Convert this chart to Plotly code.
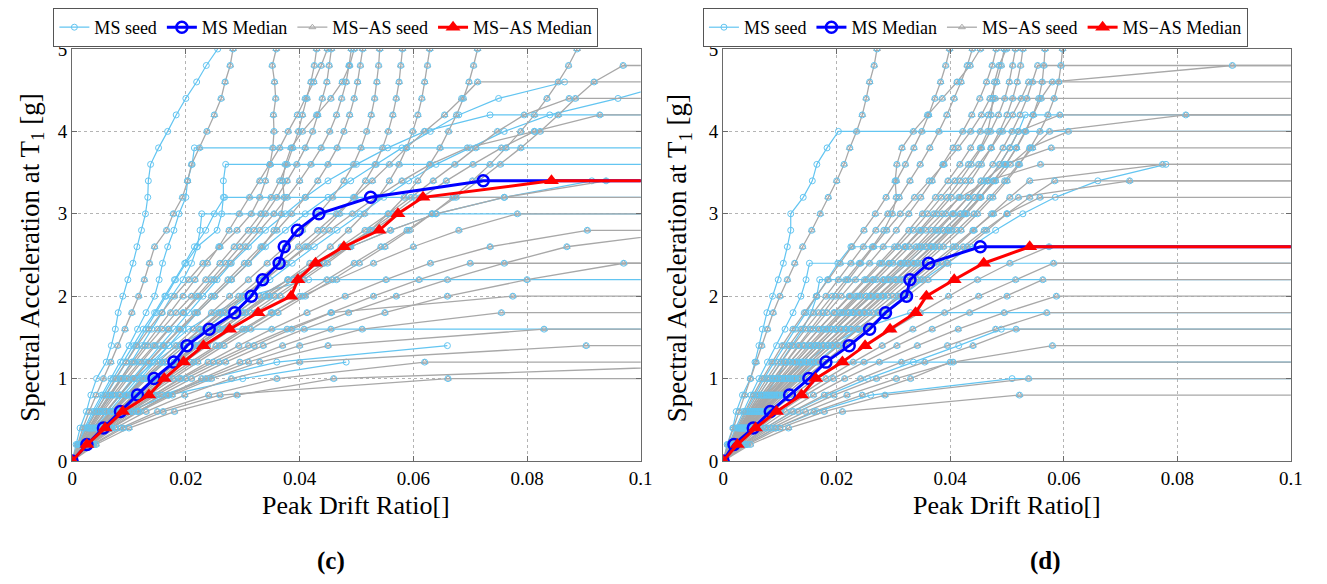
import plotly.graph_objects as go

# ---------------- data ----------------
IM_LEVELS = [0.0, 0.2, 0.4, 0.6, 0.8, 1.0, 1.2, 1.4, 1.6, 1.8, 2.0, 2.2, 2.4,
             2.6, 2.8, 3.0, 3.2, 3.4, 3.6, 3.8, 4.0, 4.2, 4.4, 4.6, 4.8, 5.0]
DRIFT_UNIT = 0.001      # drift lists below are in thousandths
X_TICKS = [0, 0.02, 0.04, 0.06, 0.08, 0.1]
X_TICK_TEXT = ["0", "0.02", "0.04", "0.06", "0.08", "0.1"]
Y_TICKS = [0, 1, 2, 3, 4, 5]
Y_TICK_TEXT = ["0", "1", "2", "3", "4", "5"]

# ---- panel (c) ----
C_MS_SEEDS = [
    [0, 0.7, 1.4, 2.5, 3.3, 4.3, 6.0, 6.9, 7.6, 8.1, 8.9, 9.8, 10.7, 11.4, 12.2, 12.9, 13.3, 13.4, 13.8, 15.2, 16.8, 18.3, 20.0, 21.9, 23.6, 25.6],
    [0, 1.0, 2.2, 3.6, 5.2, 6.8, 8.5, 10.0, 11.5, 13.0, 14.5, 15.3, 15.9, 16.8, 17.9, 18.8, 20.0, 20.3, 21.1, 21.5],
    [0, 1.2, 2.6, 4.2, 6.0, 7.8, 9.5, 11.2, 13.0, 14.8, 16.5, 18.2, 20.0, 22.0, 25.5, 26.3, 26.6, 26.6, 27.0],
    [0, 1.1, 2.4, 3.9, 5.5, 7.2, 9.0, 10.8, 12.5, 14.5, 16.3, 18.0, 19.8, 21.5, 23.5, 25.0, 26.8],
    [0, 1.3, 3.0, 4.8, 6.8, 8.6, 10.5, 12.3, 14.0, 15.8, 17.5, 19.5, 21.0, 22.0, 22.5, 22.8],
    [0, 1.8, 4.0, 6.5, 9.0, 11.5, 14.0, 17.0, 20.5, 25.0, 31.0, 41.6],
    [0, 1.6, 3.6, 6.0, 8.5, 11.0, 14.5, 18.5, 24.0],
    [0, 2.0, 4.5, 7.0, 9.5, 12.0, 14.5, 17.0, 19.5, 22.0, 25.0, 28.0, 31.0, 34.0, 37.5, 41.0, 45.0, 49.0, 53.5, 58.0, 63.0, 68.0, 75.0, 86.6],
    [0, 1.7, 3.8, 6.0, 8.3, 10.6, 13.0, 15.5, 18.0, 20.5, 23.0, 25.5, 28.0, 31.0, 34.0, 37.5, 41.0, 45.0, 50.0, 55.5, 62.0, 73.5],
    [0, 2.2, 5.0, 8.0, 11.0, 14.5, 18.0, 21.5, 25.0, 29.0, 33.0, 38.0, 43.0, 49.0, 56.0, 64.0, 76.0, 91.4],
    [0, 2.4, 5.5, 10.0, 17.0, 30.0, 48.2],
    [0, 2.6, 6.0, 10.5, 16.0, 24.0, 36.0, 66.0],
    [0, 1.9, 4.3, 7.0, 9.9, 13.0, 16.3, 19.8, 23.4, 27.1, 30.9, 34.8, 38.7, 42.6, 46.6, 50.6, 54.8, 59.2, 64.0, 70.0, 76.0, 84.0, 96.0, 106.0],
]
C_MS_COLLAPSE = [False, True, True, True, True, True, True, False, True, True, False, False, False]

C_AS_SEEDS = [
    [0, 0.9, 1.9, 3.0, 4.2, 5.5, 6.8, 8.0, 9.3, 10.5, 11.7, 12.7, 13.6, 14.5, 16.6, 17.8, 19.4, 20.3, 21.0, 22.4, 23.7, 25.0, 26.2, 26.9, 27.8, 28.3],
    [0, 1.2, 2.6, 4.2, 5.9, 7.6, 9.5, 11.4, 13.5, 15.8, 18.0, 20.5, 23.0, 26.0, 29.0, 31.5, 33.0, 34.0, 34.8, 35.3, 35.5, 35.4, 35.8, 35.6, 35.2, 35.9],
    [0, 1.4, 3.0, 4.8, 6.8, 8.8, 11.0, 13.3, 15.8, 18.3, 21.0, 23.5, 26.0, 28.5, 31.0, 33.2, 35.0, 36.5, 37.8, 38.8, 39.8, 40.5, 41.3, 42.0, 42.6, 43.0],
    [0, 1.3, 2.9, 4.6, 6.5, 8.5, 10.6, 12.8, 15.0, 17.3, 19.5, 21.6, 23.8, 25.8, 27.6, 29.4, 31.2, 33.0, 34.8, 36.5, 38.0, 39.6, 41.0, 42.5, 43.8, 44.9],
    [0, 1.6, 3.4, 5.4, 7.6, 9.8, 12.2, 14.6, 17.0, 19.5, 22.0, 24.5, 27.0, 29.5, 32.0, 34.0, 36.0, 37.8, 39.5, 41.0, 42.3, 43.2, 44.0, 44.8, 45.2, 45.6],
    [0, 1.5, 3.2, 5.1, 7.2, 9.4, 11.8, 14.3, 16.9, 19.6, 22.3, 25.0, 27.8, 30.5, 33.0, 35.5, 37.8, 40.0, 42.0, 43.8, 45.3, 46.5, 47.4, 48.2, 48.7, 49.1],
    [0, 1.8, 3.8, 6.0, 8.4, 10.9, 13.5, 16.2, 19.0, 22.0, 25.0, 28.0, 31.0, 33.5, 35.5, 36.8, 37.3, 37.0, 37.5, 38.5, 40.5, 43.0, 45.5, 47.5, 48.8, 49.6],
    [0, 1.7, 3.7, 5.9, 8.3, 10.8, 13.4, 16.0, 18.8, 21.6, 24.5, 27.4, 30.3, 33.2, 36.0, 38.6, 41.0, 43.2, 45.0, 46.6, 47.8, 48.8, 49.6, 50.2, 50.7, 51.1],
    [0, 2.0, 4.3, 6.8, 9.5, 12.3, 15.2, 18.2, 21.3, 24.5, 27.7, 31.0, 34.3, 37.5, 40.5, 43.3, 45.8, 47.8, 49.5, 50.8, 51.8, 52.6, 53.2, 53.6, 53.9, 54.1],
    [0, 2.1, 4.6, 7.3, 10.2, 13.2, 16.4, 19.8, 23.2, 26.8, 30.4, 34.0, 37.6, 41.0, 44.2, 47.0, 49.5, 51.6, 53.3, 54.6, 55.6, 56.4, 57.0, 57.5, 57.8, 58.1],
    [0, 2.3, 5.0, 8.0, 11.2, 14.6, 18.2, 22.0, 25.9, 29.9, 33.9, 37.9, 41.8, 45.4, 48.6, 51.4, 53.8, 55.8, 57.5, 58.8, 59.9, 60.8, 61.5, 62.0, 62.5, 62.9],
    [0, 2.5, 5.4, 8.6, 12.1, 15.8, 19.7, 23.8, 28.0, 32.3, 36.6, 40.8, 44.9, 48.8, 52.4, 55.6, 58.4, 60.8, 62.9, 64.7, 66.2, 67.6, 68.8, 69.8, 70.6, 71.3],
    [0, 2.8, 6.0, 9.6, 13.5, 17.7, 22.1, 26.7, 31.4, 36.2, 41.0, 45.8, 50.5, 55.0, 59.3, 63.3, 67.0, 70.4, 73.5, 76.3, 78.9, 81.3, 83.5, 85.5, 87.3, 88.8],
    [0, 2.6, 5.7, 9.2, 13.0, 17.1, 21.4, 25.9, 30.5, 35.2, 40.0, 44.8, 49.6, 54.3, 58.9, 63.3, 67.5, 71.5, 75.3, 78.9, 82.3, 85.5, 88.5, 91.8, 96.9],
    [0, 2.0, 4.4, 7.0, 9.8, 12.8, 15.9, 19.1, 22.4, 25.8, 29.3, 32.8, 36.3, 39.8, 43.2, 46.5, 49.7, 52.8, 55.8, 58.8, 62.0, 65.5, 68.5, 71.3],
    [0, 2.4, 5.2, 8.3, 11.7, 15.3, 19.1, 23.1, 27.2, 31.4, 35.7, 40.0, 44.3, 48.6, 52.8, 57.0, 61.3, 65.8, 70.5, 75.5, 81.3, 92.8],
    [0, 1.9, 4.2, 6.8, 9.6, 12.6, 15.8, 19.1, 22.6, 26.2, 29.9, 33.7, 37.5, 41.4, 45.3, 49.3, 53.5, 58.0, 63.0, 69.5, 81.3],
    [0, 2.2, 4.8, 7.7, 10.9, 14.3, 17.9, 21.8, 25.8, 30.0, 34.4, 38.9, 43.4, 47.9, 52.4, 56.5, 60.3],
    [0, 2.5, 5.5, 8.8, 12.5, 16.5, 20.8, 25.3, 30.0, 35.0, 40.5, 46.5, 53.0, 60.0, 68.0, 78.3],
    [0, 2.9, 6.3, 10.1, 14.3, 18.9, 23.9, 29.3, 35.1, 41.3, 48.0, 55.2, 63.0, 73.5, 90.6],
    [0, 2.8, 6.2, 10.2, 14.8, 20.0, 25.8, 32.0, 38.6, 45.6, 53.0, 61.0, 70.0],
    [0, 3.2, 7.0, 11.5, 16.8, 22.8, 29.5, 37.0, 45.5, 55.0, 66.0, 80.0, 97.0],
    [0, 3.0, 6.8, 11.5, 17.0, 23.5, 31.0, 40.0, 51.0, 75.5],
    [0, 3.3, 7.6, 13.0, 19.8, 28.0, 40.0, 90.4],
    [0, 3.6, 8.5, 15.0, 24.0, 36.0, 62.0],
    [0, 4.2, 10.0, 18.0, 29.0, 46.0, 130.0],
    [0, 3.0, 6.6, 10.8, 15.6, 21.0, 27.0, 33.6, 40.8, 48.6, 57.0, 66.0, 76.0, 87.0, 110.0],
    [0, 2.3, 5.0, 8.0, 11.3, 14.8, 18.5, 22.4, 26.4, 30.5, 34.7, 38.9, 43.1, 47.3, 51.5, 55.6, 59.6, 63.5, 67.3, 71.0, 74.8, 79.5, 87.4],
    [0, 3.8, 9.0, 16.0, 26.0, 66.1],
    [0, 3.1, 7.0, 11.8, 17.6, 24.5, 33.0, 45.0, 83.0],
    [0, 2.7, 6.0, 9.8, 14.2, 19.2, 24.8, 31.0, 37.8, 45.5, 77.5],
    [0, 2.2, 5.0, 8.0, 11.0, 14.5, 18.0, 21.5, 25.0, 29.0, 33.0, 38.0, 43.0, 49.0, 56.0, 64.0, 76.0, 93.9],
]
C_AS_COLLAPSE = [False] * 13 + [True, True, True, True, True, True, True, True, True, True,
                                True, True, False, False, True, True, True, True, True]

C_MS_MEDIAN = [0, 2.6, 5.5, 8.5, 11.5, 14.4, 17.9, 20.2, 24.1, 28.6, 31.5, 33.5, 36.4, 37.3, 39.6, 43.4, 52.5, 72.3]
C_AS_MEDIAN = [0, 2.6, 5.8, 8.9, 13.5, 16.2, 19.6, 23.1, 27.7, 32.7, 38.5, 39.7, 42.8, 47.8, 54.0, 57.3, 61.7, 84.3]

# ---- panel (d) ----
D_MS_SEEDS = [
    [0, 0.7, 1.7, 2.3, 3.4, 4.8, 5.6, 6.3, 6.9, 7.7, 8.7, 9.7, 10.6, 11.3, 11.9, 11.9, 14.1, 15.7, 16.5, 18.3, 20.3],
    [0, 1.2, 2.6, 4.0, 5.6, 7.2, 9.0, 10.8, 12.7, 14.6, 16.5, 18.4, 20.2, 22.5],
    [0, 1.0, 2.2, 3.5, 4.9, 6.3, 7.8, 9.4, 10.9, 12.3, 13.7, 14.6, 15.2],
    [0, 1.3, 2.8, 4.5, 6.3, 8.2, 10.2, 12.1, 14.0, 15.5, 16.5, 17.0],
    [0, 1.6, 3.5, 5.7, 8.2, 11.0, 14.5, 18.5, 24.0, 33.0],
    [0, 1.5, 3.2, 5.2, 7.5, 9.4, 11.0],
    [0, 1.7, 3.7, 6.0, 8.5, 11.1, 13.9, 16.8, 19.8, 22.9, 26.1, 29.3, 32.5, 35.7, 38.8, 41.8, 44.3, 46.6, 48.7, 50.5, 52.0, 53.2],
    [0, 3.3, 7.4, 12.4, 18.5, 25.5, 33.5, 41.5, 49.0],
    [0, 4.0, 9.3, 16.5, 26.0, 50.9],
    [0, 2.0, 4.4, 7.1, 10.0, 13.1, 16.4, 19.9, 23.6, 27.4, 31.3, 35.3, 39.4, 43.6, 48.0, 52.8, 58.5, 66.0, 78.0],
]
D_MS_COLLAPSE = [True, True, True, True, True, True, True, True, True, False]

D_AS_SEEDS = [
    [0, 0.8, 1.8, 2.8, 3.8, 4.8, 5.8, 6.8, 7.8, 8.8, 10.0, 11.3, 12.6, 14.0, 15.6, 17.1, 18.5, 20.0, 21.3, 22.3, 23.5, 24.5, 25.2, 25.8, 26.6, 27.1],
    [0, 1.1, 2.4, 3.8, 5.3, 6.9, 8.6, 10.4, 12.3, 14.3, 16.4, 18.5, 20.6, 22.7, 24.8, 26.8, 28.7, 30.5, 32.1, 33.6, 35.0, 36.2, 37.3, 38.3, 39.2, 39.9],
    [0, 1.2, 2.6, 4.2, 5.9, 7.7, 9.6, 11.6, 13.7, 15.9, 18.1, 20.3, 22.5, 24.7, 26.9, 29.0, 31.0, 32.9, 34.7, 36.4, 38.0, 39.4, 40.7, 41.9, 43.0, 43.9],
    [0, 1.3, 2.8, 4.5, 6.3, 8.2, 10.2, 12.3, 14.5, 16.8, 19.2, 21.6, 24.0, 26.3, 28.3, 29.8, 30.5, 30.3, 30.6, 31.5, 33.5, 36.0, 38.6, 41.2, 43.5, 45.3],
    [0, 1.4, 3.0, 4.8, 6.8, 8.9, 11.1, 13.4, 15.8, 18.3, 20.8, 23.3, 25.8, 28.2, 30.5, 32.7, 34.8, 36.8, 38.7, 40.5, 42.2, 43.8, 45.2, 46.4, 47.4, 48.1],
    [0, 1.3, 2.9, 4.7, 6.7, 8.8, 11.0, 13.2, 15.4, 17.6, 19.8, 22.0, 24.2, 26.5, 28.8, 31.2, 33.7, 36.3, 38.9, 41.4, 43.6, 45.5, 47.0, 48.2, 49.0, 49.5],
    [0, 1.5, 3.2, 5.1, 7.2, 9.4, 11.8, 14.3, 16.9, 19.6, 22.4, 25.2, 28.0, 30.8, 33.5, 36.0, 38.4, 40.8, 43.2, 45.3, 46.6, 47.2, 47.5, 47.8, 48.6, 49.9],
    [0, 1.6, 3.5, 5.6, 7.9, 10.3, 12.8, 15.4, 18.1, 20.9, 23.7, 26.5, 29.3, 32.0, 34.6, 37.1, 39.5, 41.7, 43.7, 45.5, 47.1, 48.5, 49.6, 50.4, 51.0, 51.5],
    [0, 1.7, 3.7, 5.9, 8.3, 10.8, 13.5, 16.3, 19.2, 22.2, 25.2, 28.2, 31.2, 34.0, 36.7, 39.2, 41.5, 43.6, 45.5, 47.2, 48.7, 50.0, 51.0, 51.8, 52.4, 52.8],
    [0, 1.9, 4.1, 6.5, 9.1, 11.9, 14.8, 17.8, 20.9, 24.1, 27.3, 30.5, 33.7, 36.8, 39.8, 42.6, 45.2, 47.6, 49.8, 51.7, 53.3, 54.6, 55.6, 56.2, 56.5, 56.7],
    [0, 2.0, 4.4, 7.0, 9.8, 12.8, 15.9, 19.1, 22.4, 25.7, 29.0, 32.3, 35.6, 38.8, 41.9, 44.8, 47.5, 50.0, 52.2, 54.1, 55.8, 57.2, 58.3, 59.1, 59.5, 59.8],
    [0, 1.8, 3.9, 6.2, 8.7, 11.3, 14.0, 16.8, 19.7, 22.7, 25.8, 28.9, 32.0, 35.0, 37.9, 40.6, 43.1, 45.4, 47.5, 49.3, 50.9, 52.3, 53.5, 54.5, 55.4],
    [0, 1.9, 4.2, 6.7, 9.4, 12.3, 15.3, 18.4, 21.6, 24.8, 28.0, 31.2, 34.3, 37.3, 40.2, 42.9, 45.4, 47.7, 49.8, 51.6, 53.2, 54.6, 56.0, 58.0, 89.7],
    [0, 1.5, 3.3, 5.3, 7.5, 9.9, 12.4, 15.0, 17.7, 20.5, 23.4, 26.3, 29.2, 32.1, 34.9, 37.6, 40.2, 42.7, 45.0, 47.2, 49.2, 51.0, 52.5, 53.8],
    [0, 1.4, 3.1, 5.0, 7.1, 9.3, 11.7, 14.2, 16.8, 19.5, 22.2, 24.9, 27.6, 30.2, 32.7, 35.1, 37.4, 39.6, 41.7, 43.6, 45.3, 46.7, 47.9],
    [0, 1.7, 3.7, 6.0, 8.5, 11.1, 13.9, 16.8, 19.8, 22.9, 26.1, 29.3, 32.5, 35.7, 38.8, 41.8, 44.3, 46.6, 48.7, 50.5, 52.0, 59.3],
    [0, 2.0, 4.3, 6.8, 9.5, 12.4, 15.4, 18.5, 21.7, 25.0, 28.3, 31.6, 34.9, 38.1, 41.2, 44.2, 47.0, 49.6, 52.0, 54.5, 57.5, 81.5],
    [0, 1.8, 3.9, 6.3, 8.9, 11.7, 14.6, 17.6, 20.7, 23.9, 27.1, 30.3, 33.5, 36.6, 39.6, 42.5, 45.3, 48.0, 50.6, 54.0, 60.8],
    [0, 1.6, 3.5, 5.7, 8.1, 10.7, 13.4, 16.2, 19.1, 22.1, 25.2, 28.3, 31.4, 34.5, 37.5, 40.4, 43.2, 46.0, 49.5, 57.8],
    [0, 2.1, 4.6, 7.4, 10.4, 13.6, 16.9, 20.3, 23.8, 27.3, 30.8, 34.3, 37.7, 41.0, 44.2, 47.3, 50.5, 54.0, 77.4],
    [0, 1.5, 3.3, 5.4, 7.7, 10.2, 12.8, 15.5, 18.3, 21.2, 24.1, 27.0, 29.9, 32.8, 35.7, 38.6, 41.8, 46.5, 55.9],
    [0, 1.9, 4.2, 6.8, 9.6, 12.6, 15.8, 19.2, 22.7, 26.3, 29.9, 33.5, 37.0, 40.5, 44.0, 47.6, 52.0, 71.6],
    [0, 2.2, 4.8, 7.7, 10.9, 14.3, 17.8, 21.4, 25.1, 28.8, 32.5, 36.1, 39.6, 43.0, 46.4, 50.0, 54.0, 58.4],
    [0, 2.0, 4.4, 7.1, 10.1, 13.3, 16.7, 20.2, 23.8, 27.5, 31.2, 34.9, 38.6, 42.3, 46.0, 50.0, 55.8],
    [0, 2.4, 5.3, 8.6, 12.3, 16.3, 20.6, 25.1, 29.8, 34.7, 39.7, 44.8, 50.5, 57.4],
    [0, 2.6, 5.8, 9.5, 13.6, 18.1, 22.9, 28.0, 33.4, 39.0, 45.0, 51.5, 58.2],
    [0, 2.8, 6.2, 10.1, 14.5, 19.4, 24.8, 30.6, 36.8, 43.4, 50.0, 56.3],
    [0, 3.0, 6.7, 11.0, 15.9, 21.4, 27.5, 34.2, 41.4, 49.5, 58.7],
    [0, 3.3, 7.4, 12.2, 17.8, 24.2, 31.4, 39.5, 48.0, 57.0],
    [0, 3.5, 7.9, 13.2, 19.5, 27.0, 35.5, 44.0, 51.6],
    [0, 3.7, 8.5, 14.5, 21.8, 30.5, 40.5, 58.0],
    [0, 4.0, 9.2, 16.0, 24.5, 33.0, 40.0],
    [0, 4.3, 10.0, 17.8, 28.5, 53.8],
    [0, 4.8, 11.5, 21.0, 52.2],
]
D_AS_COLLAPSE = [False] * 11 + [True] * 23

D_MS_MEDIAN = [0, 1.9, 5.3, 8.3, 11.7, 15.1, 18.1, 22.2, 25.8, 28.6, 32.3, 32.9, 36.2, 45.3]
D_AS_MEDIAN = [0, 2.5, 5.7, 9.4, 13.8, 16.3, 21.0, 25.0, 29.4, 33.9, 35.8, 40.7, 45.9, 54.0]

# ---------------- style ----------------
FONT = "Liberation Serif, Times New Roman, serif"
LIGHT_BLUE = "#63C5F1"
GRAY = "#A8A8A8"
FLAT_END = 0.13   # collapse plateaus run beyond the axis edge (clipped)

W, H = 1327, 584
M_T, M_B = 49, 123
PLOT_H = H - M_T - M_B
DOMAINS = [(68 / W, 644 / W), (727.5 / W, 1302.5 / W)]


def curve(xs, collapse):
    n = min(len(xs), len(IM_LEVELS))
    x = [v * DRIFT_UNIT for v in xs[:n]]
    y = list(IM_LEVELS[:n])
    if collapse:
        x.append(FLAT_END)
        y.append(y[-1])
    return x, y


fig = go.Figure()

panels = [
    (C_MS_SEEDS, C_MS_COLLAPSE, C_AS_SEEDS, C_AS_COLLAPSE, C_MS_MEDIAN, C_AS_MEDIAN),
    (D_MS_SEEDS, D_MS_COLLAPSE, D_AS_SEEDS, D_AS_COLLAPSE, D_MS_MEDIAN, D_AS_MEDIAN),
]

for p, (ms, msc, asd, asc, msm, asm) in enumerate(panels):
    xa = "x" if p == 0 else "x2"
    ya = "y" if p == 0 else "y2"
    lg = "legend" if p == 0 else "legend2"
    for i, (s, c) in enumerate(zip(ms, msc)):
        x, y = curve(s, c)
        fig.add_trace(go.Scatter(
            x=x, y=y, xaxis=xa, yaxis=ya, mode="lines+markers", name="MS seed",
            legend=lg, showlegend=(i == 0), legendrank=1,
            line=dict(color=LIGHT_BLUE, width=1.2),
            marker=dict(symbol="circle-open", size=6, color=LIGHT_BLUE, line=dict(width=1))))
    all_x, all_y = [], []
    for i, (s, c) in enumerate(zip(asd, asc)):
        x, y = curve(s, c)
        all_x += x[1:]
        all_y += y[1:]
        fig.add_trace(go.Scatter(
            x=x, y=y, xaxis=xa, yaxis=ya, mode="lines+markers", name="MS\u2212AS seed",
            legend=lg, showlegend=(i == 0), legendrank=3,
            line=dict(color=GRAY, width=1.3),
            marker=dict(symbol="triangle-up-open", size=6, color=GRAY, line=dict(width=1))))
    fig.add_trace(go.Scatter(
        x=all_x, y=all_y, xaxis=xa, yaxis=ya, mode="markers", showlegend=False,
        hoverinfo="skip",
        marker=dict(symbol="circle-open", size=6, color=LIGHT_BLUE, line=dict(width=1))))
    x, y = curve(msm, True)
    fig.add_trace(go.Scatter(
        x=x, y=y, xaxis=xa, yaxis=ya, mode="lines+markers", name="MS Median",
        legend=lg, legendrank=2,
        line=dict(color="#0000FF", width=3),
        marker=dict(symbol="circle-open", size=11, color="#0000FF", line=dict(width=2.5))))
    x, y = curve(asm, True)
    fig.add_trace(go.Scatter(
        x=x, y=y, xaxis=xa, yaxis=ya, mode="lines+markers", name="MS\u2212AS Median",
        legend=lg, legendrank=4,
        line=dict(color="#FF0000", width=3),
        marker=dict(symbol="triangle-up", size=13, color="#FF0000")))

axis_common = dict(
    showgrid=True, gridcolor="#B4B4B4", griddash="dot", gridwidth=1,
    showline=True, linecolor="#6A6A6A", linewidth=1.2, mirror="ticks",
    ticks="inside", ticklen=5, tickcolor="#6A6A6A", zeroline=False,
    tickfont=dict(family=FONT, size=19, color="black"),
)

layout = dict(
    width=W, height=H, margin=dict(l=0, r=0, t=M_T, b=M_B),
    paper_bgcolor="white", plot_bgcolor="white",
    font=dict(family=FONT, color="black"),
)
for p in range(2):
    sx = "" if p == 0 else "2"
    layout["xaxis" + sx] = dict(axis_common, domain=list(DOMAINS[p]), range=[0, 0.1],
                                tickvals=X_TICKS, ticktext=X_TICK_TEXT,
                                anchor="y" + sx)
    layout["yaxis" + sx] = dict(axis_common, domain=[0, 1], range=[0, 5],
                                tickvals=Y_TICKS, ticktext=Y_TICK_TEXT,
                                anchor="x" + sx)

legend_common = dict(
    orientation="h", xanchor="left", yanchor="top", y=(H - M_B - 8) / PLOT_H,
    bgcolor="white", bordercolor="#555555", borderwidth=1,
    font=dict(family=FONT, size=18, color="black"),
    itemwidth=30, tracegroupgap=0,
)
layout["legend"] = dict(legend_common, x=49 / W)
layout["legend2"] = dict(legend_common, x=707 / W)

fig.update_layout(**layout)

annotations = []
for p, lab in enumerate(["(c)", "(d)"]):
    cx = (DOMAINS[p][0] + DOMAINS[p][1]) / 2
    annotations.append(dict(text="Peak Drift Ratio[]", x=cx, y=(H - M_B - 505) / PLOT_H,
                            xref="paper", yref="paper", showarrow=False,
                            xanchor="center", yanchor="middle",
                            font=dict(family=FONT, size=26, color="black")))
    annotations.append(dict(text="Spectral Acceleration at T<sub>1</sub> [g]",
                            x=(27 if p == 0 else 683) / W, y=(H - M_B - 258) / PLOT_H,
                            xref="paper", yref="paper", showarrow=False, textangle=-90,
                            xanchor="center", yanchor="middle",
                            font=dict(family=FONT, size=27, color="black")))
    annotations.append(dict(text="<b>" + lab + "</b>", x=(330 if p == 0 else 1054) / W,
                            y=(H - M_B - 561) / PLOT_H, xref="paper", yref="paper",
                            showarrow=False, xanchor="center", yanchor="middle",
                            font=dict(family=FONT, size=25, color="black")))
fig.update_layout(annotations=annotations)

fig.write_html("out.html")
